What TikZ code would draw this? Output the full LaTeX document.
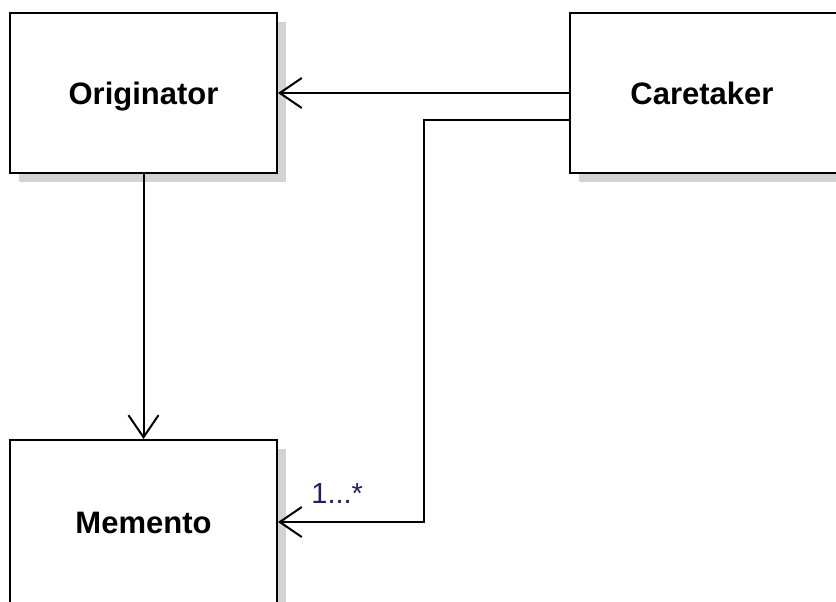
\documentclass[tikz,border=0pt]{standalone}
\usepackage{fontspec}
\setmainfont{Liberation Sans}
\usetikzlibrary{arrows.meta,shadows}
\definecolor{shadowGray}{HTML}{D3D3D3}
\definecolor{multInk}{HTML}{2B1D5C}

\begin{document}
\begin{tikzpicture}[
  x=.5pt,y=-.5pt,
  class/.style={draw=black,line width=1pt,fill=white,minimum width=133.5pt,minimum height=80pt,inner sep=0pt,
    text height=11pt,text depth=0pt,
    font=\fontsize{15.5}{18}\selectfont\bfseries,
    drop shadow={shadow xshift=4.5pt,shadow yshift=-4.5pt,fill=shadowGray,opacity=1}},
  assoc/.style={draw=black,line width=1pt,-{Straight Barb[length=11pt,width=15pt,line width=1pt]}},
  mult/.style={text=multInk,inner sep=0pt,font=\fontsize{14.5}{16}\selectfont}
]
  \useasboundingbox (0,0) rectangle (836,601);

  \node[class] (orig) at (143.5,93) {Originator};
  \node[class,minimum width=140pt,text width=128pt,align=center] (care) at (710,93) {\hspace*{-8pt}Caretaker};
  \node[class,minimum height=82pt] (memo) at (143.5,522) {Memento};

  \draw[assoc] (care.west) -- (orig.east);
  \draw[assoc] (orig.south) -- (memo.north);

  % second link from the caretaker runs round to the memento
  \coordinate (turn) at (424,120);
  \draw[assoc] (care.west |- turn) -- (turn) |- (memo.east);
  \node[mult,anchor=south west] (many) at ([xshift=16.5pt,yshift=9pt]memo.east) {1...*};
\end{tikzpicture}
\end{document}
